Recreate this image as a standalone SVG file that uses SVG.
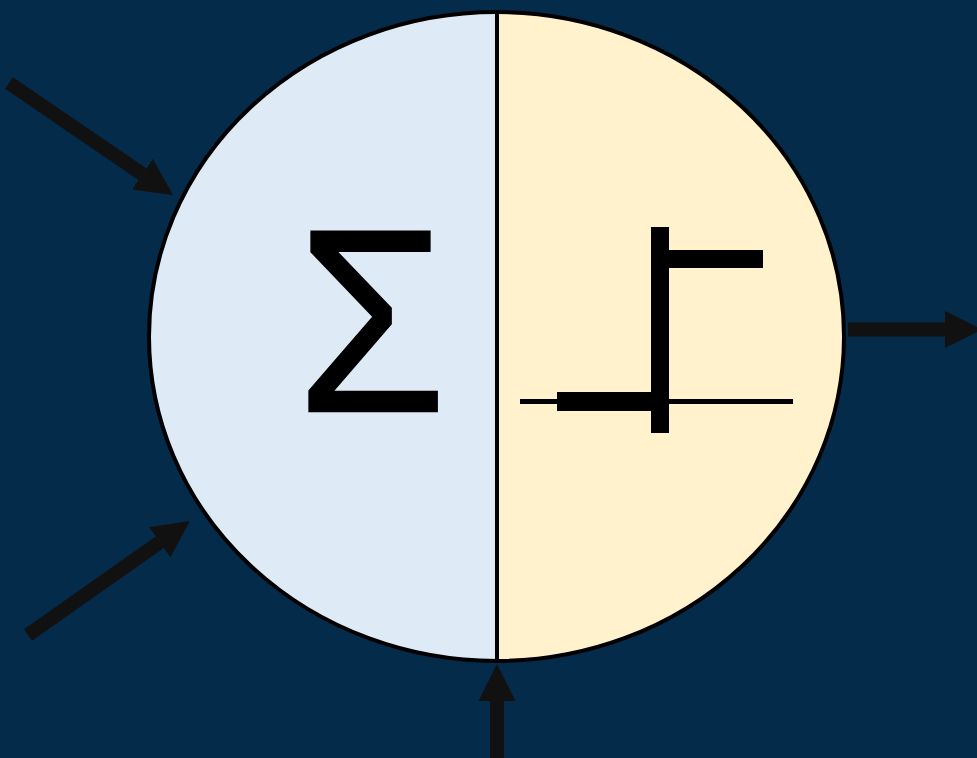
<svg xmlns="http://www.w3.org/2000/svg" width="977" height="758" viewBox="0 0 977 758">
  <style>
    .outline { fill: none; stroke: #000; stroke-width: 4; }
    .shaft { stroke: #111; stroke-width: 14; fill: none; }
    .sym { fill: #000; }
    .sigma { font-family: "Liberation Sans", Arial, sans-serif; font-size: 262px; fill: #000; stroke: #000; stroke-width: 1.5; }
  </style>
  <defs>
    <marker id="head" viewBox="0 0 37 37" refX="0" refY="18.5" markerWidth="37" markerHeight="37" markerUnits="userSpaceOnUse" orient="auto">
      <path d="M0,0 L37,18.5 L0,37 Z" fill="#111"/>
    </marker>
  </defs>
  <rect width="977" height="758" fill="#052B4B"/>
  <g id="neuron">
    <path d="M496.5,12 A347.5,324.5 0 0 0 496.5,661 Z" fill="#DEEAF6"/>
    <path d="M496.5,12 A347.5,324.5 0 0 1 496.5,661 Z" fill="#FFF2CC"/>
    <ellipse class="outline" cx="496.5" cy="336.5" rx="347.5" ry="324.5"/>
    <line class="outline" x1="497" y1="12" x2="497" y2="661"/>
  </g>
  <g id="sum">
    <text class="sigma" transform="translate(371.5,411.5) scale(0.93,1)" x="0" y="0" text-anchor="middle">Σ</text>
  </g>
  <g id="step">
    <rect class="sym" x="520" y="399" width="273" height="5"/>
    <rect class="sym" x="557" y="392" width="95" height="19"/>
    <rect class="sym" x="651" y="227" width="18" height="206"/>
    <rect class="sym" x="668" y="250" width="95" height="18"/>
  </g>
  <g id="connectors">
    <line class="shaft" x1="9" y1="83" x2="142.4" y2="174.1" marker-end="url(#head)"/>
    <line class="shaft" x1="28" y1="635" x2="159.7" y2="542.3" marker-end="url(#head)"/>
    <line class="shaft" x1="497" y1="758" x2="497" y2="701" marker-end="url(#head)"/>
    <line class="shaft" x1="848" y1="329.5" x2="945" y2="329.5" marker-end="url(#head)"/>
  </g>
</svg>
